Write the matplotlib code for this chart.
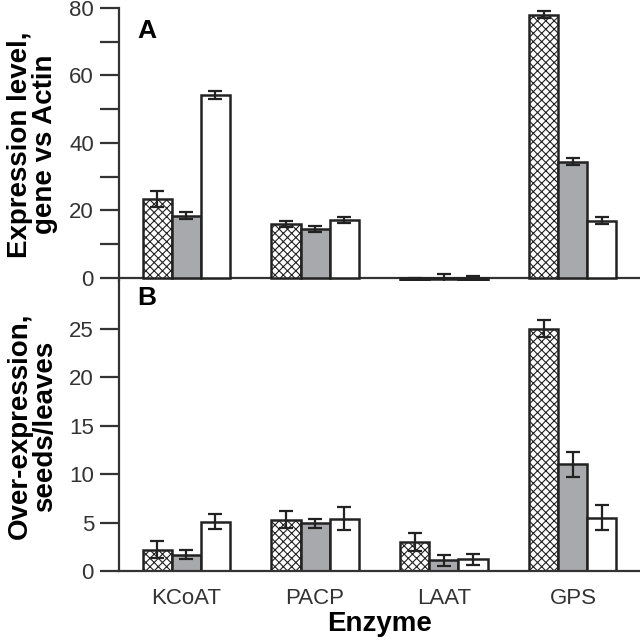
import matplotlib
matplotlib.use("Agg")
import matplotlib.pyplot as plt
import numpy as np

plt.rcParams['font.family'] = ['Liberation Sans', 'DejaVu Sans']
plt.rcParams['hatch.color'] = '#8a8a8a'
plt.rcParams['hatch.linewidth'] = 0.8

enzymes = ["KCoAT", "PACP", "LAAT", "GPS"]

# Panel A: expression level, gene vs Actin
a_cross = [23.4, 16.0, -0.5, 78.0]
a_cross_err = [2.5, 1.0, 0.6, 1.0]
a_gray = [18.5, 14.5, -0.3, 34.5]
a_gray_err = [1.0, 1.0, 1.5, 1.0]
a_white = [54.3, 17.2, -0.5, 17.0]
a_white_err = [1.2, 1.0, 1.0, 1.0]

# Panel B: over-expression, seeds/leaves
b_cross = [2.2, 5.3, 3.0, 25.0]
b_cross_err = [0.9, 0.9, 0.9, 0.9]
b_gray = [1.7, 4.9, 1.1, 11.0]
b_gray_err = [0.5, 0.5, 0.6, 1.3]
b_white = [5.1, 5.4, 1.2, 5.5]
b_white_err = [0.8, 1.2, 0.6, 1.3]

fig = plt.figure(figsize=(6.4, 6.42), dpi=100)
L = 119 / 640
axA = fig.add_axes([L, 1 - 281 / 642, 1 - L, (281 - 8) / 642])
axB = fig.add_axes([L, 1 - 571 / 642, 1 - L, (571 - 281) / 642])

x = np.arange(len(enzymes))
w = 0.225
edge = '#222222'
gray = '#a7a9ac'
ekw = dict(ecolor='#222222', elinewidth=1.6, capsize=5, capthick=1.6)

def draw(ax, c, ce, g, ge, wv, we):
    ax.bar(x - w, c, w, color='white', edgecolor=edge, linewidth=1.8, hatch='xxxx',
           yerr=ce, error_kw=ekw, zorder=2)
    ax.bar(x, g, w, color=gray, edgecolor=edge, linewidth=1.8,
           yerr=ge, error_kw=ekw, zorder=2)
    ax.bar(x + w, wv, w, color='white', edgecolor=edge, linewidth=1.8,
           yerr=we, error_kw=ekw, zorder=2)
    ax.set_xlim(-0.52, 3.52)
    for s in ['top', 'right']:
        ax.spines[s].set_visible(False)
    ax.spines['left'].set_linewidth(1.6)
    ax.spines['left'].set_color('#333333')
    ax.tick_params(axis='y', direction='out', length=14, width=1.6, color='#333333',
                   labelsize=16, labelcolor='#333333', pad=4)

draw(axA, a_cross, a_cross_err, a_gray, a_gray_err, a_white, a_white_err)
axA.set_ylim(-0.9, 80)
axA.set_yticks(np.arange(0, 81, 10))
axA.set_yticklabels(['0', '', '20', '', '40', '', '60', '', '80'])
axA.spines['bottom'].set_visible(False)
axA.axhline(0, color='#333333', linewidth=1.6, zorder=1)
axA.set_xticks([])
axA.set_ylabel("Expression level,\ngene vs Actin", fontsize=20, fontweight='bold',
               linespacing=0.95, labelpad=8)
axA.text(0.035, 0.915, "A", transform=axA.transAxes, fontsize=19, fontweight='bold',
         va='center', ha='left')

draw(axB, b_cross, b_cross_err, b_gray, b_gray_err, b_white, b_white_err)
axB.set_ylim(0, 29.9)
axB.set_yticks([0, 5, 10, 15, 20, 25])
axB.spines['bottom'].set_linewidth(1.6)
axB.spines['bottom'].set_color('#333333')
axB.set_xticks(x)
axB.set_xticklabels(enzymes)
axB.tick_params(axis='x', length=0, labelsize=16, labelcolor='#333333', pad=12)
axB.set_ylabel("Over-expression,\nseeds/leaves", fontsize=20, fontweight='bold',
               linespacing=0.95, labelpad=8)
axB.set_xlabel("Enzyme", fontsize=20, fontweight='bold', labelpad=2)
axB.text(0.035, 0.94, "B", transform=axB.transAxes, fontsize=19, fontweight='bold',
         va='center', ha='left')

fig.savefig("out.png", dpi=100)
